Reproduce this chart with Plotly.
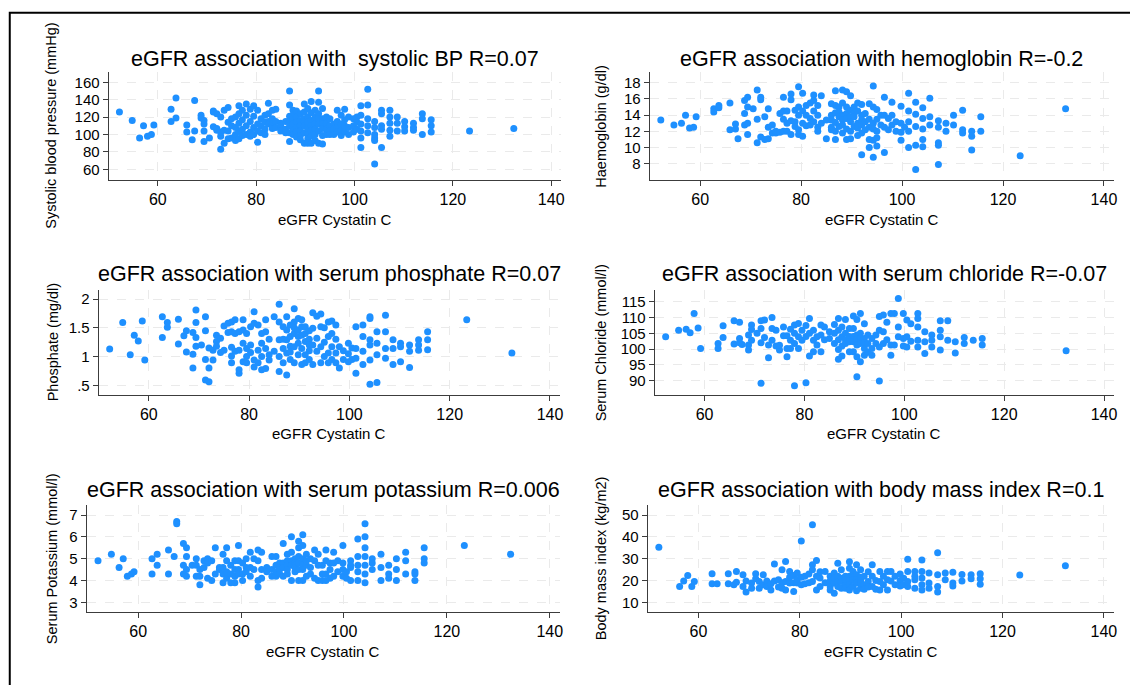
import plotly.graph_objects as go

# ---------------- data (eGFR Cystatin C column -> measured values) ----------------
x_tick_values = [60, 80, 100, 120, 140]

sbp_by_egfr = {
    52.2: [126], 54.8: [116], 56.3: [96], 57.1: [110], 57.9: [98], 58.7: [100], 59.2: [111],
    62.7: [129, 115], 63.7: [142, 119], 65.9: [111, 103], 67.0: [94], 67.5: [139, 104],
    68.8: [122, 119], 69.4: [116, 112, 104, 92], 70.5: [96], 71.3: [127, 109, 126],
    72.0: [124, 107, 105], 72.8: [83, 98, 120, 103], 73.5: [128, 105, 90], 74.3: [131, 114, 95, 104],
    75.0: [110, 96, 118], 75.8: [120, 108, 93, 100], 76.5: [133, 124, 113, 104, 95],
    77.2: [128, 117, 106, 99], 78.0: [135, 122, 110, 100], 78.8: [129, 115, 103, 98],
    79.5: [133, 121, 108, 100], 80.3: [128, 112, 104, 91], 81.0: [118, 110, 102],
    81.8: [122, 114, 106, 100], 82.5: [136, 124, 115, 112], 83.3: [128, 118, 112, 107],
    84.0: [129, 115, 108], 85.0: [113, 110, 104], 86.0: [115, 106, 102],
    86.8: [150, 134, 121, 116, 110, 102, 92], 87.5: [128, 122, 118, 112, 105, 100],
    88.2: [127, 120, 114, 108, 103, 97], 89.0: [124, 116, 110, 104, 99, 94],
    89.8: [135, 126, 118, 114, 110, 102, 90], 90.5: [130, 120, 114, 107, 100, 95, 90],
    91.2: [138, 125, 116, 110, 105, 98, 90], 92.0: [128, 120, 116, 112, 106, 100, 93],
    92.7: [150, 137, 124, 118, 112, 104, 90], 93.5: [130, 118, 112, 107, 99, 89],
    94.3: [120, 113, 106, 100], 95.0: [118, 110, 104, 100], 95.8: [112, 106, 100],
    96.5: [128, 115, 108, 103], 97.3: [122, 112, 105, 99], 98.0: [129, 117, 110, 103],
    98.8: [120, 108, 100], 99.8: [118, 110, 103], 100.5: [120, 114, 106],
    101.3: [133, 122, 112, 104, 96, 85], 102.7: [152, 134, 118, 110, 102],
    104.1: [115, 108, 100, 96, 93, 66], 105.5: [128, 124, 110, 106, 85],
    107.2: [128, 120, 113, 105, 98], 108.7: [120, 113, 104], 110.2: [115, 109, 104],
    112.0: [113, 108, 105], 113.8: [124, 118, 100], 115.6: [117, 110, 103],
    123.4: [104], 132.4: [107],
}

hb_by_egfr = {
    52.2: [13.4], 54.8: [12.8], 56.3: [13.0], 57.1: [14.0], 57.9: [12.4], 58.7: [12.5], 59.2: [13.8],
    62.7: [14.8, 14.4], 63.7: [15.2, 14.9], 65.9: [15.5, 12.2], 67.0: [12.9, 12.3], 67.5: [11.1],
    68.8: [15.8, 14.2, 12.8], 69.4: [16.2, 15.0, 13.0, 11.6], 70.5: [14.8],
    71.3: [17.1, 13.5, 10.6], 72.0: [16.2, 15.9, 11.3], 72.8: [13.8, 11.0],
    73.5: [14.8, 12.5, 11.1], 74.3: [12.8, 11.8], 75.0: [11.8, 12.0], 75.8: [14.2, 11.9],
    76.5: [16.2, 14.5, 13.5, 12.0], 77.2: [14.5, 13.0, 12.0], 78.0: [16.6, 15.9, 13.3, 11.6],
    78.8: [14.6, 13.2, 12.6], 79.5: [17.5, 15.0, 14.0, 12.2, 11.6], 80.3: [16.7, 14.5, 13.0, 11.4],
    81.0: [15.2, 14.0, 12.7], 81.8: [15.5, 13.6, 12.8], 82.5: [16.5, 15.8, 14.5, 13.2],
    83.3: [15.2, 14.0, 12.5, 12.0], 84.0: [16.4, 13.0], 85.0: [11.1, 13.4],
    86.0: [15.4, 14.0, 13.4, 12.5, 12.2], 86.8: [17.0, 15.2, 14.3, 13.1, 12.0, 11.0],
    87.5: [15.0, 14.4, 13.8, 12.6], 88.2: [17.1, 15.5, 14.0, 13.4, 12.8, 11.8],
    89.0: [16.9, 15.0, 14.2, 13.6, 12.3, 11.0], 89.8: [16.4, 14.6, 13.8, 13.2, 12.0, 11.1],
    90.5: [15.0, 14.2, 13.8, 12.6], 91.2: [15.5, 14.5, 13.0, 12.4, 11.5],
    92.0: [15.3, 14.0, 13.4, 12.8, 11.8, 9.1], 92.7: [14.2, 13.2, 12.2],
    93.5: [15.4, 13.5, 12.5, 11.0, 10.0], 94.3: [17.6, 15.0, 13.0, 12.3, 10.9, 8.8],
    95.0: [14.7, 13.5, 12.0, 11.2, 10.2], 95.8: [14.0, 12.8], 96.5: [16.2, 14.0, 12.5, 9.4],
    97.3: [13.6, 12.2], 98.0: [15.6, 14.0, 12.8], 98.8: [13.2, 12.0],
    99.8: [15.1, 13.0, 11.9, 10.9], 100.5: [12.5], 101.3: [16.7, 14.5, 13.2, 12.0, 10.0],
    102.7: [15.6, 14.1, 12.6, 10.3, 7.3], 104.1: [14.9, 13.6, 12.3, 11.0, 10.1],
    105.5: [16.1, 13.8, 12.8], 107.2: [13.3, 12.5, 10.6, 10.3, 7.9], 108.7: [13.0, 12.0],
    110.2: [14.0, 12.8], 112.0: [14.6, 12.2, 11.8], 113.8: [12.0, 11.4, 9.7],
    115.6: [13.8, 12.0], 123.4: [9.0], 132.4: [14.8],
}

phos_by_egfr = {
    52.2: [1.13], 54.8: [1.59], 56.3: [1.03], 57.1: [1.37], 57.9: [1.27], 58.7: [1.62], 59.2: [0.94],
    62.7: [1.69, 1.33], 63.7: [1.59, 1.51], 65.9: [1.65, 1.22], 67.0: [1.36], 67.5: [1.08, 1.45],
    68.8: [1.04, 0.80, 1.42], 69.4: [1.81, 1.59, 1.33, 1.18], 70.5: [1.20],
    71.3: [1.69, 1.45, 0.95, 0.59], 72.0: [1.15, 0.80, 0.56], 72.8: [0.94, 1.11],
    73.5: [1.37, 1.26, 1.18], 74.3: [1.32, 1.07], 75.0: [1.53, 1.11], 75.8: [1.58, 1.42],
    76.5: [1.60, 1.43, 1.16, 1.01, 0.89], 77.2: [1.64, 1.40, 1.09], 78.0: [1.43, 1.11, 0.71, 0.77],
    78.8: [1.64, 1.46, 1.23, 0.91], 79.5: [1.40, 1.14, 1.00, 0.89], 80.3: [1.52, 1.20, 1.07],
    81.0: [1.78, 1.58, 0.94, 0.82], 81.8: [1.55, 1.11, 0.89], 82.5: [1.40, 1.23, 1.00, 0.77],
    83.3: [1.64, 1.43, 1.14, 0.79], 84.0: [1.03, 0.94, 1.30], 85.0: [1.69, 1.09],
    86.0: [1.91, 1.60, 1.29, 1.00, 0.74], 86.8: [1.52, 1.30, 1.14, 0.89],
    87.5: [1.69, 1.46, 1.29, 1.06, 0.68], 88.2: [1.55, 1.35, 1.18, 1.08, 0.95],
    89.0: [1.83, 1.60, 1.50, 1.40, 1.17, 0.89], 89.8: [1.66, 1.46, 1.35, 1.23, 1.03],
    90.5: [1.64, 1.52, 1.37, 1.14, 0.86], 91.2: [1.52, 1.40, 1.26, 1.03, 0.89],
    92.0: [1.45, 1.30, 1.20, 1.10, 0.95], 92.7: [1.76, 1.49, 1.20, 0.86], 93.5: [1.70, 1.32, 1.09],
    94.3: [1.74, 1.52, 1.17, 0.89], 95.0: [1.50, 1.25, 1.00], 95.8: [1.60, 1.35, 1.06, 0.89],
    96.5: [1.62, 1.40, 1.17, 0.95], 97.3: [1.55, 1.30, 1.06, 0.89], 98.0: [1.17, 0.80],
    98.8: [1.10, 0.95], 99.8: [1.23, 0.91, 1.05], 100.5: [1.15, 0.95],
    101.3: [1.52, 1.14, 0.97, 0.71], 102.7: [1.55, 1.35, 1.09, 0.86],
    104.1: [1.69, 1.66, 1.29, 1.20, 0.94, 0.52], 105.5: [1.43, 1.23, 1.03, 0.55],
    107.2: [1.72, 1.43, 1.14, 0.97], 108.7: [1.29, 1.14, 0.86], 110.2: [1.23, 1.17, 0.91],
    112.0: [1.20, 1.09, 0.81], 113.8: [1.29, 1.20, 1.11], 115.6: [1.43, 1.29, 1.12],
    123.4: [1.64], 132.4: [1.06],
}

chloride_by_egfr = {
    52.2: [103.9], 54.8: [106.0], 56.3: [106.3], 57.1: [105.2], 57.9: [111.3], 58.7: [106.7],
    59.2: [100.2], 62.7: [101.8, 100.2], 63.7: [107.4, 103.7], 65.9: [109.0, 101.6],
    67.0: [108.5, 103.4, 102.0], 67.5: [101.5], 68.8: [104.5, 101.3, 99.7],
    69.4: [107.6, 106.2, 102.8], 70.5: [105.0], 71.3: [109.0, 106.5, 102.0, 89.2],
    72.0: [109.2, 103.7], 72.8: [101.3, 97.3], 73.5: [110.0, 106.5, 102.8], 74.3: [106.0, 101.0],
    75.0: [99.7, 101.2], 75.8: [107.0, 104.2], 76.5: [104.2, 97.6, 100.2],
    77.2: [106.3, 102.8, 100.2], 78.0: [107.6, 105.0, 101.8, 88.4], 78.8: [108.1, 103.9, 100.2],
    79.5: [106.0, 102.8], 80.3: [107.5, 104.0, 89.4], 81.0: [109.7, 105.0, 97.8],
    81.8: [106.0, 102.8, 99.2], 82.5: [103.9, 101.3], 83.3: [107.6, 104.5, 99.2],
    84.0: [107.0, 103.0], 85.0: [105.5, 103.4], 86.0: [107.8, 105.0, 101.8],
    86.8: [109.7, 106.0, 103.0, 99.9, 96.8], 87.5: [107.0, 103.9, 101.0, 97.8],
    88.2: [109.4, 105.0, 103.0, 101.8], 89.0: [106.5, 104.0, 102.3, 99.2],
    89.8: [110.5, 106.5, 104.0, 102.3, 99.2], 90.5: [109.4, 104.5, 103.0, 101.3, 97.6, 91.3],
    91.2: [111.3, 105.0, 103.5, 101.8, 96.0], 92.0: [108.0, 103.4, 102.0, 100.2, 98.1],
    92.7: [104.5, 101.8, 99.0], 93.5: [103.4, 100.2, 98.1], 94.3: [104.5, 101.8],
    95.0: [110.3, 106.0, 100.7, 89.9], 95.8: [110.8, 105.5, 101.8], 96.5: [108.5, 103.0],
    97.3: [111.3, 101.3, 98.1], 98.0: [111.3, 101.3], 98.8: [116.0, 107.0, 103.9],
    99.8: [111.3, 103.4, 101.0], 100.5: [109.2, 103.9, 100.7], 101.3: [108.0, 102.5],
    102.7: [111.3, 109.7, 107.0, 102.8, 100.7], 104.1: [105.5, 102.3, 98.6],
    105.5: [104.5, 102.8, 100.7], 107.2: [109.0, 106.0, 103.9, 99.7], 108.7: [109.0, 102.8],
    110.2: [102.3, 98.8], 112.0: [103.7, 101.8], 113.8: [102.8], 115.6: [103.4, 101.3],
    132.4: [99.5],
}

potassium_by_egfr = {
    52.2: [4.9], 54.8: [5.2], 56.3: [4.6], 57.1: [5.0], 57.9: [4.2], 58.7: [4.3], 59.2: [4.4],
    62.7: [5.0, 4.3], 63.7: [5.2, 4.7], 65.9: [5.4, 4.3], 67.0: [5.1], 67.5: [6.7, 6.6],
    68.8: [5.7, 4.7, 4.3], 69.4: [5.5, 5.1, 4.5, 4.2], 70.5: [4.7], 71.3: [5.0, 4.2, 4.7],
    72.0: [4.5, 3.8, 4.2], 72.8: [4.9, 4.6], 73.5: [5.0, 4.1, 4.8], 74.3: [4.9, 4.0],
    75.0: [5.5, 4.3], 75.8: [4.6, 4.5], 76.5: [5.2, 4.6, 3.9, 4.3], 77.2: [5.5, 4.9, 4.1, 4.4],
    78.0: [4.7, 4.3, 3.9], 78.8: [4.9, 4.5, 4.2, 3.9], 79.5: [5.6, 4.9, 4.5, 4.3],
    80.3: [4.8, 4.3, 4.0], 81.0: [5.0, 4.6, 4.4], 81.8: [5.3, 4.6, 4.2], 82.5: [5.0, 4.5],
    83.3: [5.4, 4.9, 4.0, 3.7], 84.0: [5.3, 4.5, 4.1], 85.0: [4.6, 4.4], 86.0: [5.1, 4.5, 4.2],
    86.8: [5.1, 4.7, 4.2, 4.4], 87.5: [4.8, 4.6, 4.5, 4.3], 88.2: [5.7, 4.8, 4.6, 4.2],
    89.0: [5.2, 4.9, 4.7, 4.3, 4.5], 89.8: [6.0, 5.3, 4.9, 4.7, 4.0],
    90.5: [5.0, 4.8, 4.7, 4.4, 4.6], 91.2: [5.8, 5.5, 5.1, 4.8, 4.5, 4.0],
    92.0: [6.1, 5.6, 5.0, 4.7, 4.5, 4.0], 92.7: [5.2, 4.7, 4.2, 4.9], 93.5: [5.0, 4.6, 4.3],
    94.3: [5.4, 4.9, 4.1], 95.0: [5.2, 4.7, 4.0], 95.8: [4.7, 4.3, 4.0],
    96.5: [5.4, 4.9, 4.3, 4.0], 97.3: [4.8, 4.5, 4.1], 98.0: [5.3, 4.8, 4.2], 98.8: [4.9, 4.4],
    99.8: [5.6, 4.8, 4.5, 4.2], 100.5: [4.4, 4.1], 101.3: [4.9, 4.6, 4.0, 4.7],
    102.7: [5.9, 5.1, 4.7, 4.0, 4.4], 104.1: [6.6, 6.0, 5.5, 5.1, 4.3, 3.9, 4.7],
    105.5: [5.0, 4.5, 4.8], 107.2: [5.2, 4.6, 4.0], 108.7: [4.7, 4.3, 4.1],
    110.2: [5.0, 4.5, 4.0], 112.0: [5.3, 4.9, 4.3], 113.8: [4.4, 4.3, 4.0],
    115.6: [5.5, 5.0, 4.8], 123.4: [5.6], 132.4: [5.2],
}

bmi_by_egfr = {
    52.2: [35.2], 56.3: [17.2], 57.1: [19.8], 57.9: [22.3], 58.7: [17.2], 59.2: [19.5],
    62.7: [23.1, 18.5], 63.7: [18.5], 65.9: [23.1, 18.5], 67.0: [18.0], 67.5: [24.1, 19.2],
    68.8: [22.6, 17.2], 69.4: [19.8, 14.7], 70.5: [18.8, 16.4], 71.3: [23.1, 20.8],
    72.0: [19.5, 16.4], 72.8: [22.6, 18.0], 73.5: [19.8, 17.2], 74.3: [15.7, 18.5],
    75.0: [27.6, 19.8], 75.8: [17.0, 20.3], 76.5: [24.9, 16.4, 19.0], 77.2: [28.7, 19.5, 15.7],
    78.0: [24.1, 18.8, 21.5], 78.8: [22.3, 15.0, 19.0], 79.5: [23.4, 18.8, 20.5],
    80.3: [38.1, 21.5, 18.0], 81.0: [22.0, 18.5], 81.8: [19.0, 23.0],
    82.5: [45.5, 27.2, 24.9, 19.5], 83.3: [29.2, 22.0, 15.7], 84.0: [21.2, 17.2, 24.0],
    85.0: [24.1, 19.0], 86.0: [19.8, 17.2, 15.7, 22.0], 86.8: [23.4, 18.8, 14.2, 21.0],
    87.5: [27.9, 22.0, 19.5, 17.2], 88.2: [24.9, 21.0, 19.5, 16.4], 89.0: [22.0, 18.0, 20.5, 16.5],
    89.8: [28.6, 25.6, 22.0, 20.0, 18.0, 15.7], 90.5: [24.1, 21.5, 20.3, 17.2],
    91.2: [27.2, 22.6, 20.5, 18.8, 15.3], 92.0: [24.9, 21.5, 20.3, 16.4, 19.0],
    92.7: [22.0, 18.0, 16.0], 93.5: [24.0, 19.5, 17.0], 94.3: [27.2, 22.0, 17.2],
    95.0: [20.0, 16.0], 95.8: [24.1, 19.5, 15.7], 96.5: [22.0, 18.0], 97.3: [24.1, 20.3, 15.7],
    98.0: [24.1, 19.8], 98.8: [22.0, 18.0], 99.8: [23.0, 20.0, 17.5], 100.5: [21.0, 18.0],
    101.3: [29.7, 24.1, 19.5, 17.2], 102.7: [24.1, 20.3, 16.4, 22.0],
    104.1: [29.4, 24.1, 21.2, 18.0, 15.7], 105.5: [23.4, 18.8, 16.4],
    107.2: [32.7, 22.6, 17.2, 14.7], 108.7: [23.4, 20.3], 110.2: [23.8, 18.8, 17.5],
    112.0: [22.8, 19.8], 113.8: [22.6, 20.8], 115.6: [23.1, 20.8, 18.3], 123.4: [22.5],
    132.4: [26.8],
}

titles = [
    "eGFR association with \u00a0systolic BP R=0.07",
    "eGFR association with hemoglobin R=-0.2",
    "eGFR association with serum phosphate R=0.07",
    "eGFR association with serum chloride R=-0.07",
    "eGFR association with serum potassium R=0.006",
    "eGFR association with body mass index R=0.1",
]
y_titles = [
    "Systolic blood pressure (mmHg)", "Haemoglobin (g/dl)", "Phosphate (mg/dl)",
    "Serum Chloride (mmol/l)", "Serum Potassium (mmol/l)", "Body mass index (kg/m2)",
]
x_title = "eGFR Cystatin C"
y_tick_values = [
    [60, 80, 100, 120, 140, 160], [8, 10, 12, 14, 16, 18], [0.5, 1, 1.5, 2],
    [90, 95, 100, 105, 110, 115], [3, 4, 5, 6, 7], [10, 20, 30, 40, 50],
]
y_tick_labels = [
    ["60", "80", "100", "120", "140", "160"], ["8", "10", "12", "14", "16", "18"],
    [".5", "1", "1.5", "2"], ["90", "95", "100", "105", "110", "115"],
    ["3", "4", "5", "6", "7"], ["10", "20", "30", "40", "50"],
]
datasets = [sbp_by_egfr, hb_by_egfr, phos_by_egfr, chloride_by_egfr, potassium_by_egfr, bmi_by_egfr]

# ---------------- layout (pixels on a 1130 x 685 page) ----------------
W, H = 1130, 685
x_range = [50, 142]
y_ranges = [[47.7, 172.2], [6.0, 19.36], [0.331, 2.157], [85.5, 118.7], [2.57, 7.46], [5.7, 54.6]]
plot_x_px = [(109, 563), (652, 1118), (99, 562), (657, 1118), (87, 562), (650, 1118)]
row_y_px = [(71.7, 180), (290, 395), (505, 611.7)]
title_y_px = [59.3, 274.3, 490]
xtitle_y_px = [219, 433, 651]
ytitle_x_px = [51, 603, 53, 603, 53, 603]

FONT = "Liberation Sans, Arial, sans-serif"
DOT = "#1e90ff"

def px_x(p):
    return p / W

def px_y(p):
    return 1 - p / H

fig = go.Figure()
annotations = []
layout_axes = {}
for i in range(6):
    row = i // 2
    xs, ys = [], []
    for xv, vals in datasets[i].items():
        for v in vals:
            xs.append(xv)
            ys.append(v)
    n = "" if i == 0 else str(i + 1)
    fig.add_trace(go.Scatter(
        x=xs, y=ys, mode="markers", xaxis="x" + n, yaxis="y" + n,
        marker=dict(color=DOT, size=7, line=dict(width=0)),
        hoverinfo="x+y", showlegend=False,
    ))
    x0, x1 = plot_x_px[i]
    ytop, ybot = row_y_px[row]
    common = dict(
        showline=True, linecolor="#3c3c3c", linewidth=1, mirror=False,
        ticks="outside", ticklen=5, tickwidth=1, tickcolor="#3c3c3c",
        showgrid=True, gridcolor="#eaeaea", gridwidth=1, griddash="dash",
        zeroline=False, fixedrange=True,
    )
    layout_axes["xaxis" + n] = dict(
        common, domain=[px_x(x0), px_x(x1)], range=x_range, anchor="y" + n,
        tickmode="array", tickvals=x_tick_values,
        tickfont=dict(family=FONT, size=16, color="#000"),
    )
    layout_axes["yaxis" + n] = dict(
        common, domain=[px_y(ybot), px_y(ytop)], range=y_ranges[i], anchor="x" + n,
        tickmode="array", tickvals=y_tick_values[i], ticktext=y_tick_labels[i],
        tickfont=dict(family=FONT, size=15, color="#000"),
    )
    cx = (x0 + x1) / 2
    annotations.append(dict(
        text=titles[i], x=px_x(cx), y=px_y(title_y_px[row]), xref="paper", yref="paper",
        xanchor="center", yanchor="middle", showarrow=False,
        font=dict(family=FONT, size=21.5, color="#000"),
    ))
    annotations.append(dict(
        text=x_title, x=px_x(cx), y=px_y(xtitle_y_px[row]), xref="paper", yref="paper",
        xanchor="center", yanchor="middle", showarrow=False,
        font=dict(family=FONT, size=15, color="#000"),
    ))
    annotations.append(dict(
        text=y_titles[i], x=px_x(ytitle_x_px[i]), y=px_y((ytop + ybot) / 2),
        xref="paper", yref="paper", xanchor="center", yanchor="middle",
        textangle=-90, showarrow=False,
        font=dict(family=FONT, size=14.5, color="#000"),
    ))

fig.update_layout(
    width=W, height=H, margin=dict(l=0, r=0, t=0, b=0),
    paper_bgcolor="white", plot_bgcolor="white", showlegend=False,
    annotations=annotations,
    shapes=[dict(type="rect", xref="paper", yref="paper",
                 x0=px_x(9.8), x1=1.02, y0=-0.02, y1=px_y(12.7),
                 line=dict(color="#000", width=2), fillcolor="rgba(0,0,0,0)")],
    **layout_axes,
)

fig.write_html(
    "out.html",
    config={"displayModeBar": False},
    post_script="document.body.style.margin='0px';document.documentElement.style.overflow='hidden';",
)
